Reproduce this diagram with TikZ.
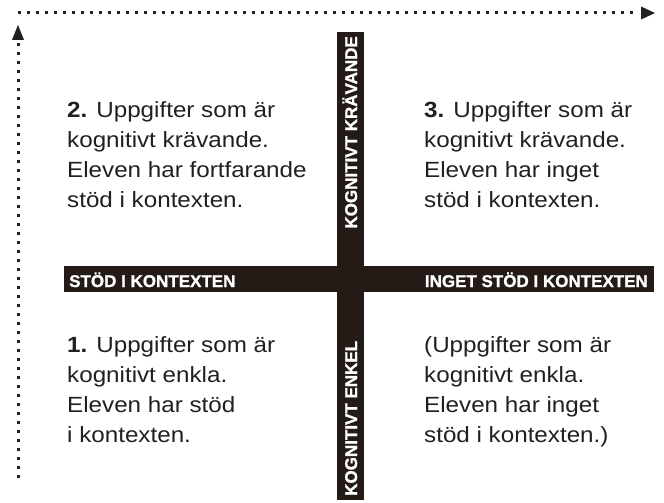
\documentclass[tikz,border=0pt]{standalone}
\usepackage{fontspec}
\setmainfont{Liberation Sans}[FakeStretch=1.1]
\newfontfamily\barfont{Liberation Sans}[FakeBold=1.2]
\definecolor{ink}{RGB}{35,31,32}
\definecolor{barc}{RGB}{36,27,22}
\begin{document}
\begin{tikzpicture}[x=1pt,y=-1pt,
  body/.style={anchor=base west, inner sep=0, align=left, text=ink, font=\fontsize{22}{30}\selectfont},
  lab/.style={inner sep=0, text=white, font=\barfont\bfseries\fontsize{17}{17}\selectfont},
  barbox/.style={fill=barc, inner sep=0, anchor=north west},
  dotline/.style={draw=ink, line width=3pt, dash pattern=on 3pt off 6pt},
  tipfill/.style={fill=ink}]
\useasboundingbox (0,0) rectangle (664,503);
% bars
\node[barbox, minimum width=590pt, minimum height=26pt] (hbar) at (64,266) {};
\node[barbox, minimum width=27pt, minimum height=468pt] (vbar) at (337,32) {};
% bar labels
\node[lab, anchor=base west] (stod) at (69,287) {STÖD I KONTEXTEN};
\node[lab, anchor=base east] (inget) at (648,287) {INGET STÖD I KONTEXTEN};
\node[lab, rotate=90, anchor=base east] (krav) at (357,36) {KOGNITIVT KRÄVANDE};
\node[lab, rotate=90, anchor=base west] (enkel) at (357,496) {KOGNITIVT ENKEL};
% quadrant texts (base anchor = last line baseline)
\node[body] (q2) at (67,207) {\textbf{2.} Uppgifter som är\\kognitivt krävande.\\Eleven har fortfarande\\stöd i kontexten.};
\node[body] (q3) at (424,207) {\textbf{3.} Uppgifter som är\\kognitivt krävande.\\Eleven har inget\\stöd i kontexten.};
\node[body] (q1) at (67,442) {\textbf{1.} Uppgifter som är\\kognitivt enkla.\\Eleven har stöd\\i kontexten.};
\node[body] (q4) at (424,442) {(Uppgifter som är\\kognitivt enkla.\\Eleven har inget\\stöd i kontexten.)};
% dotted axes
\coordinate (hs) at (18,13);
\coordinate (hb) at (638,13);
\coordinate (he) at (655,13);
\coordinate (vs) at (18,478);
\coordinate (vb) at (18,41);
\coordinate (ve) at (18,25);
\draw[dotline] (hs) -- (hb);
\fill[tipfill] (he) -- (641,6.5) -- (641,19.5) -- cycle;
\draw[dotline] (vs) -- (vb);
\fill[tipfill] (ve) -- (12,40) -- (24,40) -- cycle;
\end{tikzpicture}
\end{document}
